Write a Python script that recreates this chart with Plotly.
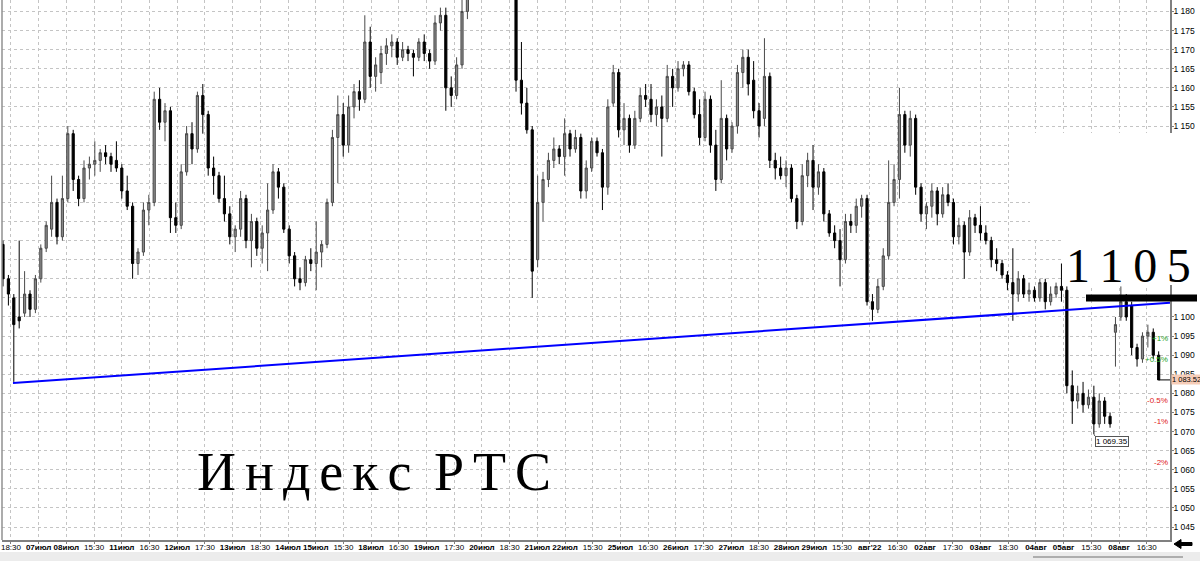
import plotly.graph_objects as go

# RTS index candles, roughly one candle per 5.4 px of the original
open_ = [
    1119, 1110, 1105, 1100, 1101, 1106, 1102, 1110, 1118, 1123,
    1130, 1121, 1131, 1148, 1136, 1131, 1139, 1140, 1141, 1143,
    1142, 1141, 1139, 1133, 1129, 1114, 1117, 1128, 1130, 1157,
    1151, 1154, 1126, 1124, 1138, 1148, 1144, 1158, 1153, 1139,
    1137, 1131, 1127, 1121, 1123, 1131, 1120, 1125, 1118, 1122,
    1128, 1138, 1134, 1123, 1116, 1110, 1109, 1115, 1114, 1117,
    1119, 1130, 1147, 1153, 1145, 1155, 1159, 1157, 1172, 1163,
    1164, 1169, 1171, 1172, 1168, 1170, 1169, 1168, 1172, 1169,
    1167, 1177, 1179, 1160, 1158, 1166, 1180, 1190, 1193, 1191,
    1195, 1192, 1194, 1191, 1193, 1188, 1162, 1156, 1149, 1115,
    1130, 1136, 1141, 1144, 1142, 1148, 1144, 1147, 1133, 1139,
    1146, 1143, 1134, 1156, 1164, 1149, 1152, 1145, 1152, 1158,
    1157, 1153, 1155, 1152, 1163, 1160, 1165, 1166, 1159, 1153,
    1147, 1157, 1145, 1136, 1152, 1144, 1150, 1164, 1168, 1162,
    1154, 1152, 1163, 1141, 1139, 1137, 1139, 1131, 1125, 1137,
    1141, 1134, 1138, 1127, 1122, 1120, 1115, 1125, 1124, 1129,
    1131, 1104, 1102, 1108, 1116, 1130, 1136, 1153, 1145, 1152,
    1134, 1127, 1129, 1133, 1127, 1132, 1130, 1121, 1124, 1117,
    1126, 1124, 1122, 1120, 1115, 1114, 1111, 1109, 1106, 1110,
    1106, 1107, 1105, 1109, 1104, 1106, 1108, 1107, 1082, 1078,
    1080, 1077, 1079, 1072, 1078, 1074, 1096, 1100, 1104, 1103,
    1092, 1089, 1095, 1096, 1090,
]
high = [
    1120, 1111, 1106, 1120, 1112, 1107, 1111, 1119, 1125, 1137,
    1131, 1137, 1150, 1149, 1137, 1141, 1142, 1146, 1144, 1145,
    1143, 1146, 1140, 1137, 1130, 1118, 1130, 1132, 1159, 1160,
    1156, 1155, 1130, 1140, 1150, 1151, 1159, 1161, 1154, 1142,
    1138, 1137, 1129, 1124, 1133, 1132, 1127, 1126, 1124, 1135,
    1140, 1139, 1135, 1124, 1117, 1113, 1116, 1118, 1125, 1120,
    1131, 1149, 1158, 1156, 1158, 1161, 1162, 1179, 1176, 1168,
    1171, 1173, 1174, 1173, 1172, 1171, 1170, 1173, 1174, 1170,
    1179, 1181, 1181, 1163, 1168, 1185, 1192, 1196, 1198, 1197,
    1200, 1197, 1198, 1196, 1197, 1190, 1172, 1160, 1150, 1137,
    1138, 1143, 1147, 1145, 1152, 1149, 1149, 1148, 1141, 1147,
    1147, 1144, 1157, 1166, 1165, 1156, 1153, 1154, 1160, 1161,
    1161, 1157, 1158, 1166, 1165, 1167, 1167, 1167, 1160, 1157,
    1159, 1158, 1149, 1162, 1153, 1151, 1166, 1170, 1170, 1167,
    1156, 1173, 1164, 1143, 1142, 1141, 1140, 1132, 1140, 1143,
    1145, 1140, 1139, 1128, 1124, 1123, 1127, 1127, 1131, 1132,
    1132, 1106, 1110, 1118, 1141, 1140, 1160, 1154, 1154, 1153,
    1135, 1130, 1135, 1134, 1134, 1135, 1131, 1126, 1125, 1128,
    1127, 1129, 1124, 1121, 1118, 1115, 1112, 1118, 1112, 1111,
    1109, 1108, 1110, 1110, 1108, 1109, 1114, 1108, 1086, 1082,
    1083, 1081, 1082, 1080, 1079, 1075, 1100, 1108, 1106, 1104,
    1093, 1096, 1098, 1097, 1091,
]
low = [
    1108, 1103, 1083, 1097, 1100, 1100, 1101, 1109, 1117, 1121,
    1119, 1120, 1130, 1133, 1129, 1130, 1136, 1137, 1138, 1140,
    1138, 1138, 1131, 1128, 1110, 1111, 1116, 1124, 1129, 1149,
    1146, 1122, 1122, 1123, 1137, 1140, 1143, 1148, 1137, 1132,
    1130, 1125, 1119, 1117, 1121, 1118, 1113, 1116, 1114, 1112,
    1127, 1131, 1122, 1114, 1108, 1107, 1108, 1112, 1107, 1113,
    1118, 1129, 1135, 1142, 1143, 1152, 1154, 1156, 1160, 1159,
    1161, 1166, 1168, 1166, 1167, 1167, 1163, 1167, 1167, 1165,
    1166, 1175, 1154, 1155, 1157, 1165, 1178, 1186, 1188, 1187,
    1190, 1188, 1189, 1187, 1186, 1159, 1153, 1148, 1105, 1113,
    1125, 1134, 1139, 1140, 1137, 1142, 1143, 1131, 1131, 1138,
    1142, 1128, 1132, 1155, 1147, 1145, 1143, 1144, 1151, 1155,
    1151, 1150, 1142, 1151, 1155, 1159, 1163, 1158, 1152, 1145,
    1146, 1143, 1133, 1135, 1141, 1143, 1148, 1160, 1158, 1152,
    1147, 1150, 1139, 1136, 1136, 1134, 1130, 1123, 1124, 1134,
    1128, 1132, 1125, 1121, 1118, 1108, 1114, 1122, 1122, 1126,
    1103, 1099, 1101, 1107, 1115, 1129, 1131, 1143, 1142, 1132,
    1125, 1123, 1126, 1124, 1126, 1129, 1119, 1119, 1110, 1116,
    1122, 1120, 1119, 1113, 1112, 1110, 1107, 1099, 1104, 1105,
    1104, 1104, 1104, 1102, 1103, 1105, 1104, 1080, 1072, 1076,
    1075, 1076, 1069.35, 1071, 1072, 1071, 1087, 1099, 1099, 1090,
    1087, 1088, 1092, 1089, 1083.5,
]
close = [
    1110, 1106, 1098, 1099, 1106, 1102, 1110, 1118, 1124, 1130,
    1121, 1131, 1148, 1136, 1131, 1139, 1140, 1141, 1143, 1142,
    1140, 1139, 1133, 1129, 1114, 1117, 1128, 1130, 1157, 1151,
    1154, 1126, 1124, 1138, 1148, 1144, 1158, 1153, 1139, 1137,
    1131, 1127, 1121, 1123, 1131, 1120, 1125, 1118, 1122, 1128,
    1138, 1134, 1123, 1116, 1110, 1109, 1115, 1114, 1117, 1119,
    1130, 1147, 1153, 1145, 1155, 1159, 1157, 1172, 1163, 1166,
    1169, 1171, 1172, 1168, 1170, 1169, 1168, 1172, 1169, 1167,
    1177, 1179, 1160, 1158, 1166, 1180, 1190, 1193, 1191, 1195,
    1192, 1194, 1191, 1193, 1188, 1162, 1156, 1149, 1112, 1130,
    1136, 1141, 1144, 1142, 1148, 1144, 1147, 1133, 1139, 1146,
    1143, 1134, 1155, 1164, 1149, 1152, 1145, 1152, 1158, 1157,
    1153, 1155, 1152, 1163, 1160, 1165, 1166, 1159, 1153, 1147,
    1157, 1145, 1136, 1152, 1144, 1150, 1164, 1168, 1161, 1154,
    1150, 1163, 1141, 1139, 1137, 1139, 1131, 1125, 1137, 1141,
    1134, 1138, 1127, 1122, 1120, 1115, 1125, 1124, 1129, 1131,
    1104, 1102, 1108, 1116, 1130, 1136, 1153, 1145, 1152, 1134,
    1127, 1129, 1133, 1127, 1132, 1130, 1121, 1124, 1117, 1126,
    1124, 1122, 1120, 1115, 1114, 1111, 1109, 1106, 1110, 1106,
    1107, 1105, 1109, 1104, 1106, 1108, 1107, 1082, 1078, 1080,
    1077, 1079, 1072, 1078, 1074, 1072, 1098, 1104, 1100, 1092,
    1089, 1095, 1096, 1090, 1083.52,
]

tick_labels = [
    "18:30", "07июл", "08июл", "15:30", "11июл", "16:30", "12июл", "17:30",
    "13июл", "18:30", "14июл", "15июл", "15:30", "18июл", "16:30", "19июл",
    "17:30", "20июл", "18:30", "21июл", "22июл", "15:30", "25июл", "16:30",
    "26июл", "17:30", "27июл", "18:30", "28июл", "29июл", "15:30", "авг'22",
    "16:30", "02авг", "17:30", "03авг", "18:30", "04авг", "05авг", "15:30",
    "08авг", "16:30",
]

# price ticks on the right; the ones between 1105 and 1145 are erased in the picture
price_ticks = [1045, 1050, 1055, 1060, 1065, 1070, 1075, 1080, 1085, 1090,
               1095, 1100, 1105, 1110, 1115, 1120, 1125, 1130, 1135, 1140,
               1145, 1150, 1155, 1160, 1165, 1170, 1175, 1180]
erased_ticks = [1105, 1110, 1115, 1120, 1125, 1130, 1135, 1140, 1145]

# support line drawn on the chart (candle index, price)
trend_x = [1.85, 216.1]
trend_y = [1082.7, 1103.7]

level = 1105                  # hand-drawn level
low_idx, low_price = 202, 1069.35
pct_levels = [1, 0.5, -0.5, -1, -2]

last_price = close[-1]
candle_x = list(range(len(close)))

SMALL_FONT = "Liberation Sans, Arial"


# pixel helpers for the decorations (plot area is x 2..1170, y 0..540)
def px(xp):
    return (xp - 2) / 1168


def py(yp):
    return 1 - yp / 540


def fmt(v, digits=2):
    return f"{v:,.{digits}f}".replace(",", " ")


fig = go.Figure()

fig.add_trace(
    go.Candlestick(
        x=candle_x,
        open=open_,
        high=high,
        low=low,
        close=close,
        increasing=dict(fillcolor="#8a8a8a", line=dict(color="#4a4a4a", width=1)),
        decreasing=dict(fillcolor="#000000", line=dict(color="#000000", width=1)),
        hoverinfo="skip",
    )
)

# blue support line
fig.add_trace(
    go.Scatter(
        x=trend_x,
        y=trend_y,
        mode="lines",
        line=dict(color="#0000ff", width=2),
        hoverinfo="skip",
    )
)

shapes = [
    # left border
    dict(type="line", xref="paper", yref="paper", x0=0, x1=0, y0=0, y1=1,
         line=dict(color="#909090", width=1.5)),
    # erased patch in the upper right
    dict(type="rect", xref="paper", yref="paper", layer="above",
         x0=px(1010), x1=px(1200), y0=py(200), y1=py(133),
         fillcolor="white", line=dict(width=0)),
    dict(type="rect", xref="paper", yref="paper", layer="above",
         x0=px(1030), x1=px(1200), y0=py(240), y1=py(200),
         fillcolor="white", line=dict(width=0)),
    dict(type="rect", xref="paper", yref="paper", layer="above",
         x0=px(1063), x1=px(1200), y0=py(285), y1=py(240),
         fillcolor="white", line=dict(width=0)),
    # thick black marker under "1105"
    dict(type="line", xref="paper", yref="y", layer="above",
         x0=px(1086), x1=px(1197), y0=level, y1=level,
         line=dict(color="black", width=7)),
    # last price line
    dict(type="line", xref="x", yref="y", x0=candle_x[-1], x1=216.1,
         y0=last_price, y1=last_price, line=dict(color="black", width=1)),
    # bottom scroll strip
    dict(type="rect", xref="paper", yref="paper", x0=px(0), x1=px(1200),
         y0=py(561), y1=py(552), fillcolor="#ececec", line=dict(width=0)),
    dict(type="line", xref="paper", yref="paper", x0=px(1033), x1=px(1183),
         y0=py(557), y1=py(557), line=dict(color="#9a9a9a", width=1.5)),
    # scroll arrow button
    dict(type="path", xref="paper", yref="paper", fillcolor="black",
         line=dict(color="black", width=1),
         path=(f"M{px(1174)},{py(544)} L{px(1181)},{py(539.5)} L{px(1181)},{py(542.5)} "
               f"L{px(1192)},{py(542.5)} L{px(1192)},{py(545.5)} L{px(1181)},{py(545.5)} "
               f"L{px(1181)},{py(548.5)} Z")),
]

annotations = [
    dict(xref="paper", yref="paper", x=px(1064), y=py(265), xanchor="left",
         yanchor="middle", showarrow=False,
         text="1\u20091\u20090\u20095",
         font=dict(family="Liberation Serif", size=48, color="black")),
    dict(xref="paper", yref="paper", x=px(195), y=py(472), xanchor="left",
         yanchor="middle", showarrow=False,
         text="И\u2006н\u2006д\u2006е\u2006к\u2006с \u2006Р\u2006Т\u2006С",
         font=dict(family="Liberation Serif", size=54, color="black")),
    dict(xref="paper", yref="y", x=px(1171), y=last_price, xanchor="left",
         yanchor="middle", showarrow=False, text=fmt(last_price),
         bgcolor="#f6cdb8", borderpad=0,
         font=dict(family=SMALL_FONT, size=7.5, color="black")),
    dict(xref="x", yref="y", x=low_idx, y=low_price, text=fmt(low_price),
         showarrow=True, arrowhead=0, arrowwidth=1, arrowcolor="#555555",
         ax=1, ay=2, xanchor="left", yanchor="top",
         bgcolor="white", bordercolor="#555555", borderwidth=1, borderpad=0,
         font=dict(family=SMALL_FONT, size=8, color="black")),
]

for p in pct_levels:
    annotations.append(
        dict(xref="paper", yref="y", x=1, y=last_price * (1 + p / 100),
             xanchor="right", yanchor="middle", showarrow=False,
             text=f"{p:+g}%",
             font=dict(family=SMALL_FONT, size=8,
                       color="#22a022" if p > 0 else "#e02020"))
    )

tick_text = [t if ":" in t else f"<b>{t}</b>" for t in tick_labels]
tick_vals = [1.48 + k * 27.7 / 5.4 for k in range(len(tick_labels))]
price_text = ["" if v in erased_ticks else fmt(v, 0) for v in price_ticks]

fig.update_layout(
    width=1200,
    height=561,
    margin=dict(l=2, r=30, t=0, b=21),
    paper_bgcolor="white",
    plot_bgcolor="white",
    showlegend=False,
    hovermode=False,
    boxgap=0.6,
    boxgroupgap=0,
    shapes=shapes,
    annotations=annotations,
    xaxis=dict(
        range=[-0.185, 216.1],
        rangeslider=dict(visible=False),
        tickmode="array",
        tickvals=tick_vals,
        ticktext=tick_text,
        tickangle=0,
        showgrid=True,
        gridcolor="#c4c4c4",
        griddash="dot",
        gridwidth=1,
        zeroline=False,
        showline=True,
        linecolor="#808080",
        linewidth=1.5,
        ticks="outside",
        ticklen=2,
        tickcolor="#808080",
        ticklabelstandoff=-3,
        tickfont=dict(family=SMALL_FONT, size=8, color="black"),
    ),
    yaxis=dict(
        side="right",
        range=[1041.6, 1183.0],
        tickmode="array",
        tickvals=price_ticks,
        ticktext=price_text,
        showgrid=True,
        gridcolor="#c4c4c4",
        griddash="dot",
        gridwidth=1,
        zeroline=False,
        showline=True,
        linecolor="#808080",
        linewidth=1.5,
        ticks="outside",
        ticklen=2,
        tickcolor="#808080",
        ticklabelstandoff=-2,
        tickfont=dict(family=SMALL_FONT, size=8.5, color="black"),
    ),
)

# the page body has a default 8px margin; drop it so the chart sits at the corner
fig.write_html(
    "out.html",
    config={"displayModeBar": False},
    post_script="document.body.style.margin = '0';",
)
